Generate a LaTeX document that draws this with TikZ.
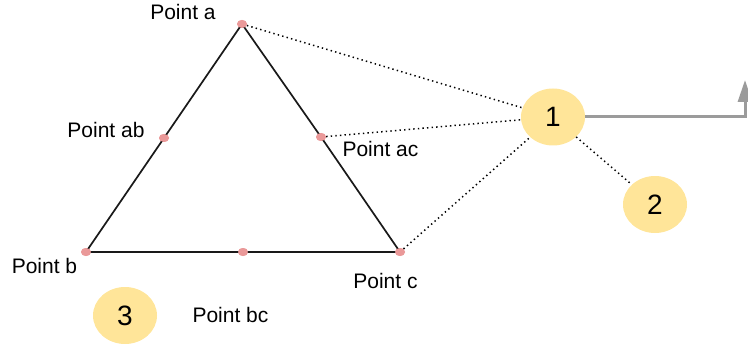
\documentclass[tikz,border=0pt]{standalone}
\usepackage{fontspec}
\setmainfont{Liberation Sans}
\usetikzlibrary{arrows.meta,shapes.geometric}
\definecolor{dotpink}{RGB}{234,153,153}
\definecolor{numfill}{RGB}{255,229,153}
\definecolor{arrgray}{RGB}{155,155,155}
\tikzset{
  pt/.style={ellipse, fill=dotpink, minimum width=10pt, minimum height=8pt, inner sep=0pt},
  num/.style={ellipse, fill=numfill, minimum width=64pt, minimum height=57pt, inner sep=0pt, font=\fontsize{28}{32}\selectfont},
  lbl/.style={anchor=base, inner sep=0pt, font=\fontsize{21}{24}\selectfont},
  edge/.style={draw=black!90, line width=1.7pt},
  link/.style={draw=black, line width=1.5pt, dash pattern=on 1.4pt off 3.2pt},
}
\begin{document}
\begin{tikzpicture}[x=1pt,y=-1pt]
\useasboundingbox (0,0) rectangle (748,345);
\clip (0,0) rectangle (748,345);
% points
\node[pt] (a) at (242,24) {};
\node[pt] (ab) at (164,138) {};
\node[pt] (ac) at (321,137) {};
\node[pt] (b) at (86,252) {};
\node[pt] (bc) at (243,252) {};
\node[pt] (c) at (400,252) {};
% triangle
\draw[edge] (a.center) -- (ab.center);
\draw[edge] (ab.center) -- (b.center);
\draw[edge] (b.center) -- (bc.center);
\draw[edge] (bc.center) -- (c.center);
\draw[edge] (c.center) -- (ac.center);
\draw[edge] (ac.center) -- (a.center);
% redraw points on top
\node[pt] at (a) {};
\node[pt] at (ab) {};
\node[pt] at (ac) {};
\node[pt] at (b) {};
\node[pt] at (bc) {};
\node[pt] at (c) {};
% numbered circles
\node[num] (n1) at (553,117) {1};
\node[num] (n2) at (655,204.5) {2};
\node[num] (n3) at (125,315.5) {3};
% dotted links
\draw[link] (a) -- (n1);
\draw[link] (ac) -- (n1);
\draw[link] (c) -- (n1);
\draw[link] (n1) -- (n2);
% gray arrow
\coordinate (turn) at (745,117);
\coordinate (tip) at (745,80);
\draw[draw=arrgray, line width=3pt, -{Triangle[length=22pt,width=14pt]}] (n1.east) -- (turn) -- (tip);
% labels
\node[lbl] (la) at (183,20) {Point a};
\node[lbl] (lab) at (106,137) {Point ab};
\node[lbl] (lac) at (380.5,157) {Point ac};
\node[lbl] (lb) at (44.5,273) {Point b};
\node[lbl] (lc) at (385.5,288) {Point c};
\node[lbl] (lbc) at (230.5,322) {Point bc};
\end{tikzpicture}
\end{document}
